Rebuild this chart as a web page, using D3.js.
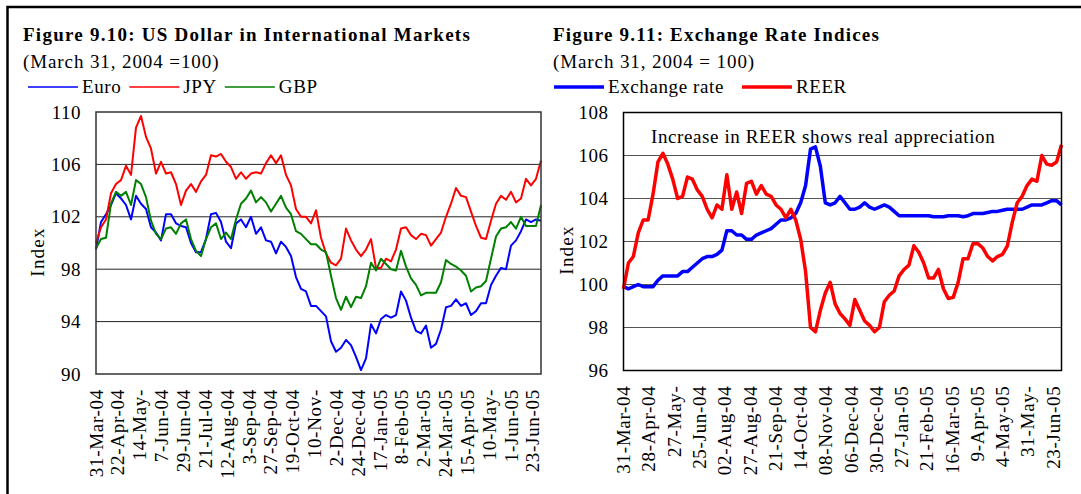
<!DOCTYPE html>
<html><head><meta charset="utf-8">
<script src="https://cdn.jsdelivr.net/npm/d3@7"></script>
<style>
html,body{margin:0;padding:0;background:#fff;}
svg{display:block;}
text{font-family:"Liberation Serif","Times New Roman",serif;fill:#000;}
</style></head>
<body>
<script>
// ---------- DATA ----------
const leftLabels = ["31-Mar-04","22-Apr-04","14-May-","7-Jun-04","29-Jun-04","21-Jul-04","12-Aug-04","3-Sep-04","27-Sep-04","19-Oct-04","10-Nov-","2-Dec-04","24-Dec-04","17-Jan-05","8-Feb-05","2-Mar-05","24-Mar-05","15-Apr-05","10-May-","1-Jun-05","23-Jun-05"];
const rightLabels = ["31-Mar-04","28-Apr-04","27-May-","25-Jun-04","02-Aug-04","27-Aug-04","21-Sep-04","14-Oct-04","08-Nov-04","06-Dec-04","30-Dec-04","27-Jan-05","21-Feb-05","16-Mar-05","9-Apr-05","4-May-05","31-May-","23-Jun-05"];
const leftYTicks = [90,94,98,102,106,110];
const rightYTicks = [96,98,100,102,104,106,108];
const leftSeriesNames = ["Euro","JPY","GBP"];
const rightSeriesNames = ["Exchange rate","REER"];

const euro = [99.5,101.6,102.2,102.9,103.8,103.4,102.9,101.8,103.6,103.0,102.6,101.2,100.8,100.2,102.2,102.2,101.5,101.3,101.2,100.0,
99.3,99.3,100.3,102.2,102.3,101.6,100.1,99.6,101.5,101.8,101.2,102.0,100.7,101.2,100.2,100.1,99.2,100.1,99.7,99.0,
97.4,96.5,96.3,95.2,95.2,94.8,94.4,92.5,91.7,92.0,92.6,92.2,91.3,90.3,91.2,93.8,93.1,94.2,94.5,94.3,
94.5,96.3,95.6,94.3,93.3,93.1,93.7,92.0,92.3,93.4,95.1,95.2,95.7,95.2,95.4,94.5,94.8,95.4,95.4,96.8,
97.5,98.1,98.0,99.8,100.2,100.9,101.8,101.6,101.8,101.7];
const jpy = [100.0,101.2,101.8,103.8,104.5,104.8,105.9,105.2,108.8,109.7,108.1,107.2,105.3,106.2,105.3,105.4,104.5,102.9,104.0,104.5,
103.9,104.7,105.2,106.7,106.6,106.8,106.2,105.8,104.9,105.4,104.9,105.3,105.4,105.3,106.1,106.7,106.1,106.7,105.2,104.4,
102.6,102.0,102.0,101.5,102.5,100.4,99.2,98.5,98.3,98.8,101.1,100.2,99.5,99.0,99.5,100.3,98.1,98.1,98.8,98.6,
99.5,101.1,101.2,100.6,100.3,100.7,100.6,99.8,100.3,100.8,102.0,103.0,104.2,103.6,103.5,102.4,101.3,100.4,100.3,101.7,
103.0,103.6,103.3,103.9,103.1,103.4,104.9,104.4,104.9,106.3];
const gbp = [99.6,100.3,100.4,103.0,103.9,103.6,103.9,102.9,104.8,104.5,103.5,101.7,100.7,100.3,101.1,101.2,100.7,101.5,101.8,100.3,
99.4,99.0,100.3,101.2,101.5,100.3,100.8,100.3,101.8,103.0,103.4,104.0,103.1,103.5,103.1,102.4,103.0,103.6,102.7,102.2,
100.9,100.7,100.3,99.9,99.9,99.5,99.3,97.5,95.8,94.9,95.9,95.1,95.9,95.8,96.7,98.5,97.9,98.8,98.4,98.0,
97.9,99.4,98.2,97.3,96.8,96.0,96.2,96.2,96.2,97.0,98.7,98.4,98.2,97.9,97.5,96.3,96.6,96.7,97.1,98.8,
100.5,101.1,101.2,101.6,101.1,102.0,101.3,101.3,101.3,102.9];

const exchRate = [99.9,99.8,99.9,100.0,99.9,99.9,99.9,100.2,100.4,100.4,100.4,100.4,100.6,100.6,100.8,101.0,101.2,101.3,101.3,101.4,
101.6,102.5,102.5,102.3,102.3,102.1,102.1,102.3,102.4,102.5,102.6,102.8,103.0,103.0,103.1,103.3,103.8,104.6,106.3,106.4,
105.5,103.8,103.7,103.8,104.1,103.8,103.5,103.5,103.6,103.8,103.6,103.5,103.6,103.7,103.6,103.4,103.2,103.2,103.2,103.2,
103.2,103.2,103.2,103.15,103.15,103.15,103.2,103.2,103.2,103.15,103.2,103.3,103.3,103.3,103.35,103.4,103.4,103.45,103.5,103.5,
103.5,103.5,103.6,103.7,103.7,103.7,103.8,103.9,103.9,103.7];
const reer = [99.8,101.0,101.3,102.4,103.0,103.0,104.2,105.7,106.1,105.6,104.9,104.0,104.1,105.0,104.9,104.4,104.1,103.5,103.1,103.7,
103.5,105.1,103.5,104.3,103.3,104.7,104.8,104.2,104.6,104.2,104.1,103.7,103.5,103.1,103.5,103.0,102.1,100.6,98.0,97.8,
98.8,99.6,100.1,99.1,98.65,98.4,98.1,99.3,98.8,98.3,98.1,97.8,98.0,99.2,99.5,99.7,100.4,100.7,100.9,101.8,
101.5,101.0,100.3,100.3,100.7,99.8,99.35,99.4,100.1,101.2,101.2,101.9,101.9,101.7,101.3,101.1,101.3,101.4,101.8,102.9,
103.8,104.1,104.6,104.9,104.8,106.0,105.6,105.55,105.7,106.5];

// business-day spans of the category axes
const leftSpan = 326, leftStep = 16;
const rightSpan = 312, rightStep = 18;

// ---------- DRAW ----------
const W = 1081, H = 494;
const svg = d3.select("body").append("svg").attr("width", W).attr("height", H);

// outer frame
svg.append("path").attr("d", "M7.5,500 L7.5,7 L1090,7")
  .attr("fill", "none").attr("stroke", "#000").attr("stroke-width", 2.5);

function chart(cfg) {
  const g = svg.append("g");
  const x = d3.scaleLinear().domain([0, cfg.span]).range([cfg.left, cfg.right]);
  const xi = d3.scaleLinear().domain([0, cfg.series[0].values.length - 1]).range([cfg.left, cfg.right]);
  const y = d3.scaleLinear().domain(cfg.yDomain).range([cfg.bottom, cfg.top]);

  // titles
  g.append("text").attr("x", cfg.titleX).attr("y", 40.5)
    .attr("font-size", 19).attr("font-weight", "bold").attr("letter-spacing", cfg.titleLS)
    .text(cfg.title);
  g.append("text").attr("x", cfg.titleX).attr("y", 68)
    .attr("font-size", 19).attr("letter-spacing", cfg.subLS).text(cfg.subtitle);

  // legend
  let lx = cfg.legendX;
  cfg.series.forEach((s, i) => {
    g.append("line").attr("x1", lx).attr("x2", lx + 50).attr("y1", 87).attr("y2", 87)
      .attr("stroke", s.color).attr("stroke-width", cfg.legendW);
    const t = g.append("text").attr("x", lx + 54).attr("y", 92.5).attr("font-size", 19)
      .attr("letter-spacing", 0.6).text(s.name);
    lx = lx + 54 + t.node().getComputedTextLength() + cfg.legendGap;
  });

  // gridlines
  g.append("g").selectAll("line").data(cfg.yTicks.slice(1, -1)).join("line")
    .attr("x1", cfg.left).attr("x2", cfg.right)
    .attr("y1", d => y(d)).attr("y2", d => y(d))
    .attr("stroke", cfg.gridColor).attr("stroke-width", 1);

  // y axis labels
  g.append("g").selectAll("text").data(cfg.yTicks).join("text")
    .attr("x", cfg.left - cfg.yLabelGap).attr("y", d => y(d)).attr("dy", "0.35em")
    .attr("text-anchor", "end").attr("font-size", 19).attr("letter-spacing", 0.5)
    .text(d => d);

  // Index title
  g.append("text").attr("transform", `translate(${cfg.indexX},${cfg.indexY}) rotate(-90)`)
    .attr("text-anchor", "middle").attr("font-size", 19).attr("letter-spacing", 1.2)
    .attr("dy", "0.35em").text("Index");

  // x labels
  g.append("g").selectAll("text").data(cfg.labels).join("text")
    .attr("transform", (d, i) => `translate(${x(i * cfg.step)},${cfg.bottom + 15}) rotate(-90)`)
    .attr("text-anchor", "end").attr("dy", "0.35em").attr("font-size", 19)
    .attr("letter-spacing", 0.7).text(d => d);

  // lines
  const line = d3.line().x((d, i) => xi(i)).y(d => y(d));
  cfg.series.forEach(s => {
    g.append("path").datum(s.values).attr("d", line)
      .attr("fill", "none").attr("stroke", s.color).attr("stroke-width", cfg.lineW)
      .attr("stroke-linejoin", "round");
  });

  // plot frame
  g.append("rect").attr("x", cfg.left).attr("y", cfg.top)
    .attr("width", cfg.right - cfg.left).attr("height", cfg.bottom - cfg.top)
    .attr("fill", "none").attr("stroke", cfg.frameColor).attr("stroke-width", 1.5);

  if (cfg.note) {
    g.append("text").attr("x", cfg.note.x).attr("y", cfg.note.y).attr("font-size", 19)
      .attr("letter-spacing", 0.6).text(cfg.note.text);
  }
}

chart({
  title: "Figure 9.10: US Dollar in International Markets",
  subtitle: "(March 31, 2004 =100)",
  titleX: 23, titleLS: 1.25, subLS: 0.9,
  legendX: 28, legendGap: 8, legendW: 1.5,
  left: 96, right: 541, top: 112, bottom: 374,
  yDomain: [90, 110], yTicks: leftYTicks, yLabelGap: 15,
  gridColor: "#222", frameColor: "#333",
  indexX: 37, indexY: 252,
  labels: leftLabels, span: leftSpan, step: leftStep,
  lineW: 2,
  series: [
    {name: leftSeriesNames[0], values: euro, color: "#0000ff"},
    {name: leftSeriesNames[1], values: jpy, color: "#ff0000"},
    {name: leftSeriesNames[2], values: gbp, color: "#008000"}
  ]
});

chart({
  title: "Figure 9.11: Exchange Rate Indices",
  subtitle: "(March 31, 2004 = 100)",
  titleX: 553, titleLS: 1.2, subLS: 0.9,
  legendX: 554, legendGap: 18, legendW: 3.5,
  left: 623.5, right: 1061.5, top: 112.5, bottom: 370.5,
  yDomain: [96, 108], yTicks: rightYTicks, yLabelGap: 15,
  gridColor: "#555", frameColor: "#000",
  indexX: 566, indexY: 250,
  labels: rightLabels, span: rightSpan, step: rightStep,
  lineW: 3.5,
  series: [
    {name: rightSeriesNames[0], values: exchRate, color: "#0000ff"},
    {name: rightSeriesNames[1], values: reer, color: "#ff0000"}
  ],
  note: {x: 651, y: 142.5, text: "Increase in REER shows real appreciation"}
});
</script>
</body></html>
